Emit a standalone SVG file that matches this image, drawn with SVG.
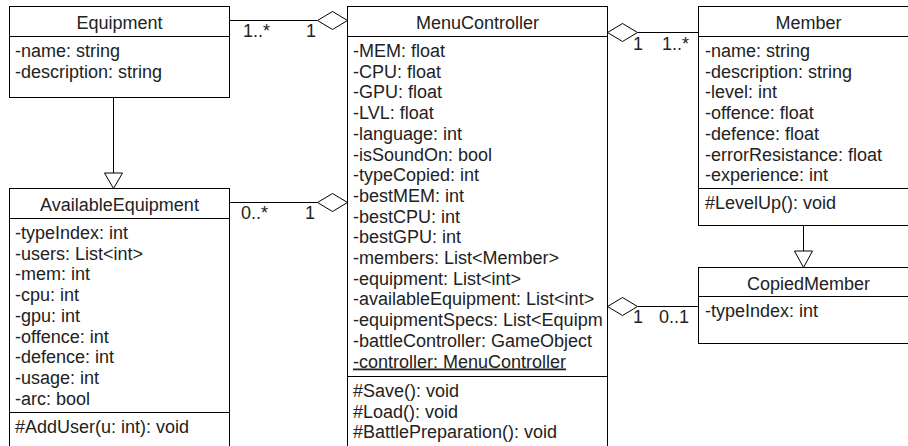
<svg xmlns="http://www.w3.org/2000/svg" width="908" height="446" viewBox="0 0 908 446">
<style>
  .box { fill: #ffffff; stroke: #000000; stroke-width: 1; }
  .sep { stroke: #000000; stroke-width: 1; }
  text { font-family: "Liberation Sans", Arial, sans-serif; font-size: 18px; fill: #222222; }
  .title { text-anchor: middle; }
  .line { stroke: #000000; stroke-width: 1; fill: none; }
  .head { fill: #ffffff; stroke: #000000; stroke-width: 1; }
  .static { text-decoration: underline; }
</style>
<defs>
  <clipPath id="clipMC"><rect x="348" y="37" width="258.5" height="420"/></clipPath>
</defs>
<rect x="0" y="0" width="908" height="446" fill="#ffffff"/>

<g id="connectors">
  <line class="line" x1="229.5" y1="20.5" x2="317.5" y2="20.5"/>
  <polygon class="head" points="317.5,20.5 332.5,11.5 347.5,20.5 332.5,29.5"/>
  <text x="243" y="36.5">1..*</text>
  <text x="306" y="36.5">1</text>

  <line class="line" x1="229.5" y1="202.5" x2="317.5" y2="202.5"/>
  <polygon class="head" points="317.5,202.5 332.5,193.5 347.5,202.5 332.5,211.5"/>
  <text x="241" y="218.5">0..*</text>
  <text x="305" y="218.5">1</text>

  <line class="line" x1="637.5" y1="32.5" x2="698.5" y2="32.5"/>
  <polygon class="head" points="607.5,32.5 622.5,23.5 637.5,32.5 622.5,41.5"/>
  <text x="633" y="49.5">1</text>
  <text x="662" y="49.5">1..*</text>

  <line class="line" x1="637.5" y1="306.5" x2="698.5" y2="306.5"/>
  <polygon class="head" points="607.5,306.5 622.5,297.5 637.5,306.5 622.5,315.5"/>
  <text x="633" y="323">1</text>
  <text x="659" y="323">0..1</text>

  <line class="line" x1="113.5" y1="97.5" x2="113.5" y2="173"/>
  <polygon class="head" points="104.5,173 122.5,173 113.5,188.5"/>

  <line class="line" x1="803.5" y1="225.5" x2="803.5" y2="251"/>
  <polygon class="head" points="794.5,251 812.5,251 803.5,267.5"/>
</g>

<g id="Equipment">
  <rect class="box" x="9.5" y="6.5" width="220" height="91"/>
  <line class="sep" x1="9.5" y1="36.5" x2="229.5" y2="36.5"/>
  <text class="title" x="119.5" y="29">Equipment</text>
  <text x="15" y="57">-name: string</text>
  <text x="15" y="77.7">-description: string</text>
</g>

<g id="AvailableEquipment">
  <rect class="box" x="9.5" y="188.5" width="220" height="280"/>
  <line class="sep" x1="9.5" y1="218.5" x2="229.5" y2="218.5"/>
  <line class="sep" x1="9.5" y1="412.5" x2="229.5" y2="412.5"/>
  <text class="title" x="119.5" y="211">AvailableEquipment</text>
  <text x="15" y="239">-typeIndex: int</text>
  <text x="15" y="259.7">-users: List&lt;int&gt;</text>
  <text x="15" y="280.4">-mem: int</text>
  <text x="15" y="301.1">-cpu: int</text>
  <text x="15" y="321.8">-gpu: int</text>
  <text x="15" y="342.5">-offence: int</text>
  <text x="15" y="363.2">-defence: int</text>
  <text x="15" y="383.9">-usage: int</text>
  <text x="15" y="404.6">-arc: bool</text>
  <text x="15" y="433">#AddUser(u: int): void</text>
</g>

<g id="MenuController">
  <rect class="box" x="347.5" y="6.5" width="260" height="460"/>
  <line class="sep" x1="347.5" y1="36.5" x2="607.5" y2="36.5"/>
  <line class="sep" x1="347.5" y1="376.5" x2="607.5" y2="376.5"/>
  <text class="title" x="477.5" y="29">MenuController</text>
  <g clip-path="url(#clipMC)">
    <text x="353" y="57">-MEM: float</text>
    <text x="353" y="77.7">-CPU: float</text>
    <text x="353" y="98.4">-GPU: float</text>
    <text x="353" y="119.1">-LVL: float</text>
    <text x="353" y="139.8">-language: int</text>
    <text x="353" y="160.5">-isSoundOn: bool</text>
    <text x="353" y="181.2">-typeCopied: int</text>
    <text x="353" y="201.9">-bestMEM: int</text>
    <text x="353" y="222.6">-bestCPU: int</text>
    <text x="353" y="243.3">-bestGPU: int</text>
    <text x="353" y="264">-members: List&lt;Member&gt;</text>
    <text x="353" y="284.7">-equipment: List&lt;int&gt;</text>
    <text x="353" y="305.4">-availableEquipment: List&lt;int&gt;</text>
    <text x="353" y="326.1">-equipmentSpecs: List&lt;Equipm</text>
    <text x="353" y="346.8">-battleController: GameObject</text>
    <text class="static" x="353" y="367.5">-controller: MenuController</text>
    <text x="353" y="397">#Save(): void</text>
    <text x="353" y="417.7">#Load(): void</text>
    <text x="353" y="438.4">#BattlePreparation(): void</text>
  </g>
</g>

<g id="Member">
  <rect class="box" x="698.5" y="6.5" width="220" height="219"/>
  <line class="sep" x1="698.5" y1="36.5" x2="918.5" y2="36.5"/>
  <line class="sep" x1="698.5" y1="188.5" x2="918.5" y2="188.5"/>
  <text class="title" x="808.5" y="29">Member</text>
  <text x="705" y="57">-name: string</text>
  <text x="705" y="77.7">-description: string</text>
  <text x="705" y="98.4">-level: int</text>
  <text x="705" y="119.1">-offence: float</text>
  <text x="705" y="139.8">-defence: float</text>
  <text x="705" y="160.5">-errorResistance: float</text>
  <text x="705" y="181.2">-experience: int</text>
  <text x="705" y="209">#LevelUp(): void</text>
</g>

<g id="CopiedMember">
  <rect class="box" x="698.5" y="267.5" width="220" height="76"/>
  <line class="sep" x1="698.5" y1="296.5" x2="918.5" y2="296.5"/>
  <text class="title" x="808.5" y="290">CopiedMember</text>
  <text x="705" y="317">-typeIndex: int</text>
</g>
</svg>
